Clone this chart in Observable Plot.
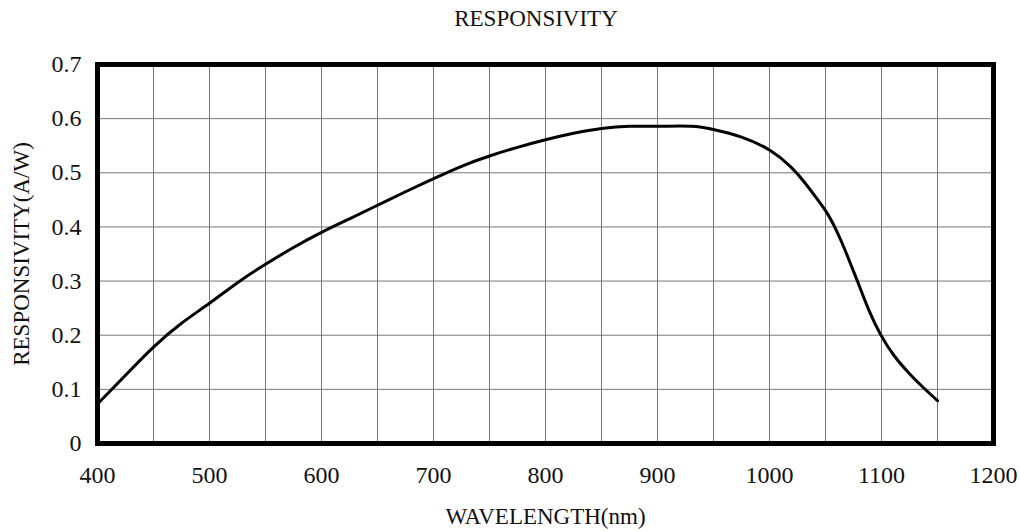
<!DOCTYPE html>
<html>
<head>
<meta charset="utf-8">
<script src="https://cdn.jsdelivr.net/npm/d3@7"></script>
<script src="https://cdn.jsdelivr.net/npm/@observablehq/plot@0.6"></script>
<style>
  html, body { margin: 0; padding: 0; background: white; }
  #title { width: 1020px; box-sizing: border-box; padding-left: 52px; height: 40px; line-height: 38px;
           text-align: center; font-family: "Liberation Serif", serif; font-size: 23px; color: #111; }
</style>
</head>
<body>
<div id="title">RESPONSIVITY</div>
<div id="chart"></div>
<script>
const wavelength = [400, 425, 450, 475, 500, 525, 550, 575, 600, 625, 650, 675, 700, 725, 750, 775, 800, 825, 850, 875, 900, 930, 950, 975, 1000, 1019, 1031, 1041, 1050, 1057, 1064, 1071, 1080, 1089, 1099, 1111, 1125, 1138, 1150];
const responsivity = [0.073, 0.126, 0.178, 0.222, 0.259, 0.297, 0.331, 0.362, 0.390, 0.415, 0.440, 0.465, 0.489, 0.512, 0.531, 0.547, 0.561, 0.573, 0.582, 0.586, 0.586, 0.586, 0.580, 0.566, 0.542, 0.511, 0.483, 0.456, 0.430, 0.405, 0.374, 0.339, 0.292, 0.245, 0.202, 0.163, 0.129, 0.102, 0.079];
const xTicks = [400, 500, 600, 700, 800, 900, 1000, 1100, 1200];
const yTicks = [0, 0.1, 0.2, 0.3, 0.4, 0.5, 0.6, 0.7];
const xGrid = [450, 500, 550, 600, 650, 700, 750, 800, 850, 900, 950, 1000, 1050, 1100, 1150];
const xLabel = "WAVELENGTH(nm)";
const yLabel = "RESPONSIVITY(A/W)";

const data = wavelength.map((w, i) => ({w, r: responsivity[i]}));

const chart = Plot.plot({
  width: 1020,
  height: 491,
  marginTop: 24,
  marginBottom: 88,
  marginLeft: 97,
  marginRight: 27,
  style: {fontFamily: "Liberation Serif, serif", fontSize: "24px", background: "white", color: "#111"},
  x: {domain: [400, 1200]},
  y: {domain: [0, 0.7]},
  marks: [
    Plot.gridX(xGrid, {stroke: "#777", strokeOpacity: 1, strokeWidth: 1}),
    Plot.gridY(yTicks, {stroke: "#777", strokeOpacity: 1, strokeWidth: 1}),
    Plot.axisX(xTicks, {tickSize: 0, tickPadding: 22, label: null, fontSize: 24, tickFormat: d => String(d)}),
    Plot.axisY(yTicks, {tickSize: 0, tickPadding: 16, label: null, fontSize: 24,
      tickFormat: d => d === 0 ? "0" : d.toFixed(1)}),
    Plot.line(data, {x: "w", y: "r", stroke: "black", strokeWidth: 3, curve: "natural"}),
    Plot.frame({stroke: "black", strokeWidth: 5}),
    Plot.text([xLabel], {text: d => d, frameAnchor: "bottom", dy: 73, fontSize: 23, textAnchor: "middle", lineAnchor: "middle"}),
    Plot.text([yLabel], {text: d => d, frameAnchor: "left", dx: -76, rotate: -90, fontSize: 23, textAnchor: "middle", lineAnchor: "middle"})
  ]
});
document.getElementById("chart").appendChild(chart);
</script>
</body>
</html>
